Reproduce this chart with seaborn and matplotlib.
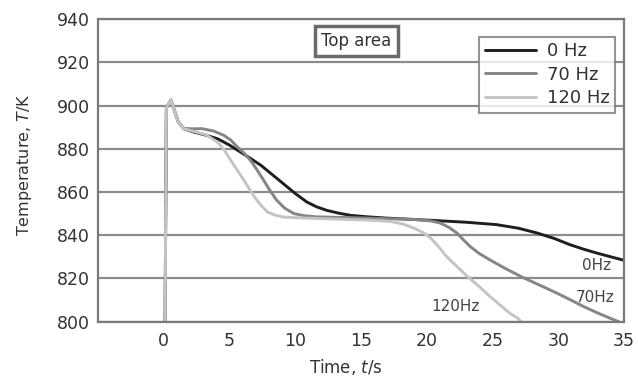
import matplotlib
matplotlib.use("Agg")
import matplotlib.pyplot as plt
import seaborn as sns
import pandas as pd

# ---- data ----
t_0hz = [0.1, 0.2, 0.55, 0.8, 1.1, 1.54, 2.3, 3.2, 4.1, 5.0, 5.85, 6.6, 7.4, 8.2, 9.1, 10.0,
         10.9, 11.6, 12.4, 13.3, 14.2, 15.5, 17, 20.3, 23, 25.3, 27, 28.4, 29.7, 30.9,
         31.9, 32.9, 34, 35]
v_0hz = [800, 899, 902.5, 898, 892.5, 889.2, 887.7, 886.3, 884.6, 881.7, 878.4, 875.5, 872.3,
         868.3, 863.8, 859.3, 855.3, 853.2, 851.5, 850.2, 849.2, 848.5, 847.9, 846.9, 846,
         844.9, 843.2, 841, 838.5, 835.6, 833.6, 831.8, 830, 828.4]

t_70hz = [0.1, 0.2, 0.55, 0.8, 1.1, 1.54, 2.2, 2.9, 3.8, 4.6, 5.1, 5.6, 6.1, 6.6, 7.1, 7.6,
          8.1, 8.6, 9.2, 9.9, 10.7, 11.6, 15, 19, 20.3, 21.0, 21.7, 22.3, 22.8, 23.3, 24.0,
          24.8, 26.1, 27.4, 28.7, 29.9, 30.9, 31.9, 32.9, 33.9, 34.6]
v_70hz = [800, 899, 902.5, 898, 892.5, 889.4, 889.2, 889.3, 888.2, 886.1, 884, 880.8, 878,
          874.6, 870.2, 865.4, 860.5, 856.1, 852.5, 850, 849, 848.5, 848, 847.3, 846.6, 845.7,
          843.6, 841, 837.8, 834.8, 831.5, 828.6, 824.2, 820.2, 816.6, 813.2, 810.2, 807.1,
          804.3, 801.7, 800]

t_120hz = [0.1, 0.2, 0.55, 0.8, 1.1, 1.54, 2.3, 3.2, 4.1, 4.6, 5.1, 5.6, 6.1, 6.9, 7.4, 7.9,
           8.5, 9.1, 10.4, 13, 15.5, 17.2, 18.2, 19.0, 19.7, 20.3, 20.9, 21.5, 22.3, 23.1,
           24.0, 24.8, 25.6, 26.3, 26.9, 27.2]
v_120hz = [800, 899, 902.5, 898, 892.5, 889.2, 888, 886.5, 883, 879.5, 874.6, 870, 865.4,
           857.7, 853.8, 850.7, 849.2, 848.4, 848, 847.5, 847, 846.4, 845.2, 843.3, 841.3,
           838.7, 834.7, 830.2, 825.5, 820.9, 816.2, 811.7, 807.6, 804, 801.7, 800]

series_names = ["0 Hz", "70 Hz", "120 Hz"]
end_labels = ["0Hz", "70Hz", "120Hz"]
x_ticks = [0, 5, 10, 15, 20, 25, 30, 35]
y_ticks = [800, 820, 840, 860, 880, 900, 920, 940]

df = pd.concat([
    pd.DataFrame({"t": t_0hz, "T": v_0hz, "f": series_names[0]}),
    pd.DataFrame({"t": t_70hz, "T": v_70hz, "f": series_names[1]}),
    pd.DataFrame({"t": t_120hz, "T": v_120hz, "f": series_names[2]}),
], ignore_index=True)

sns.set_style("white")
plt.rcParams["font.family"] = ["DejaVu Sans"]
plt.rcParams["mathtext.fontset"] = "dejavusans"

fig = plt.figure(figsize=(6.38, 3.78), dpi=100)
ax = fig.add_axes([0.1536, 0.149, 0.8244, 0.8006])

palette = {"0 Hz": "#1e1e1e", "70 Hz": "#858585", "120 Hz": "#c4c4c4"}
sns.lineplot(data=df, x="t", y="T", hue="f", palette=palette, estimator=None, sort=False,
             linewidth=2.1, ax=ax, legend=True, hue_order=series_names)

ax.set_xlim(-5, 35)
ax.set_ylim(800, 940)
ax.set_xticks(x_ticks)
ax.set_yticks(y_ticks)
ax.yaxis.grid(True, color="#8c8c8c", linewidth=1.6)
ax.xaxis.grid(False)
ax.set_axisbelow(True)
for s in ax.spines.values():
    s.set_color("#7a7a7a")
    s.set_linewidth(1.6)

ax.tick_params(axis="x", direction="in", length=3, color="#9a9a9a", labelsize=12.5,
               labelcolor="#333333", pad=7.5)
ax.tick_params(axis="y", length=0, labelsize=12.5, labelcolor="#333333", pad=6)

ax.set_xlabel(r"Time, $t$/s", fontsize=12, color="#333333")
ax.set_ylabel(r"Temperature, $T$/K", fontsize=11.5, color="#333333")
ax.xaxis.set_label_coords(0.471, -0.118)
ax.yaxis.set_label_coords(-0.122, 0.518)

leg = ax.legend(loc="upper right", bbox_to_anchor=(0.983, 0.941), frameon=True,
                fancybox=False, edgecolor="#7a7a7a", fontsize=13, handlelength=2.85,
                borderpad=0.3, labelspacing=0.3, handletextpad=0.6, borderaxespad=0)
leg.get_frame().set_linewidth(1.5)
for txt in leg.get_texts():
    txt.set_color("#333333")

ax.text(0.491, 0.927, "Top area", transform=ax.transAxes, ha="center", va="center",
        fontsize=12, color="#333333",
        bbox=dict(boxstyle="square,pad=0.38", facecolor="white", edgecolor="#6a6a6a",
                  linewidth=2.5))

ax.text(32.9, 825.9, end_labels[0], fontsize=11, color="#444444", ha="center", va="center")
ax.text(32.8, 811, end_labels[1], fontsize=11, color="#444444", ha="center", va="center")
ax.text(22.2, 806.9, end_labels[2], fontsize=11, color="#444444", ha="center", va="center")

fig.savefig("out.png", dpi=100)
